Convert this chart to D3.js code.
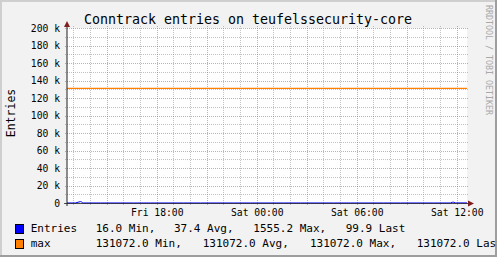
<!DOCTYPE html>
<html>
<head>
<meta charset="utf-8">
<script src="https://cdn.jsdelivr.net/npm/d3@7"></script>
<style>
  body { margin: 0; padding: 0; background: #fff; }
  svg { display: block; }
  text { font-family: "DejaVu Sans Mono", monospace; fill: #000; }
</style>
</head>
<body>
<div id="chart"></div>
<script>

  //////////// *** DATA *** ////////////

  var title = "Conntrack entries on teufelssecurity-core";
  var yLabel = "Entries";
  var watermark = "RRDTOOL / TOBI OETIKER";

  var yTicks = [0, 20000, 40000, 60000, 80000, 100000, 120000, 140000, 160000, 180000, 200000];

  // hours after the graph start (Fri 12:37)
  var entryHours  = [0, 0.5, 0.8, 0.85, 0.95, 1.0, 2, 3, 4, 5, 6, 7, 8, 9, 10, 11, 12, 13, 14, 15, 16, 17, 18, 19, 20, 21, 22, 23, 23.15, 23.2, 23.3, 23.35, 24];
  var entryValues = [30, 25, 1555, 1500, 40, 22, 18, 20, 16, 24, 19, 21, 17, 20, 18, 22, 25, 20, 19, 23, 21, 26, 30, 28, 24, 27, 31, 35, 950, 900, 60, 99.9, 99.9];

  var maxHours  = [0, 24];
  var maxValues = [131072, 131072];

  var statNames   = ["Min,", "Avg,", "Max,", "Last"];
  var entryStats  = [16.0, 37.4, 1555.2, 99.9];
  var maxStats    = [131072.0, 131072.0, 131072.0, 131072.0];

  //////////// *** VARIABLES *** ////////////

  var width = 497, height = 257;
  var x0 = 67, x1 = 467, y0 = 203, y1 = 28;

  var start = new Date(2012, 5, 8, 12, 37);
  var end = d3.timeHour.offset(start, 24);

  var x = d3.scaleTime().domain([start, end]).range([x0, x1]);
  var y = d3.scaleLinear().domain([0, 200000]).range([y0, y1]);

  var hourDate = function(h) { return new Date(start.getTime() + h * 3600000); };

  var svg = d3.select("#chart").append("svg")
    .attr("width", width)
    .attr("height", height);

  // frame
  svg.append("rect").attr("width", width).attr("height", height).attr("fill", "#f2f2f2");
  svg.append("path").attr("d", "M0,0H497V2H2V257H0Z").attr("fill", "#cfcfcf");
  svg.append("path").attr("d", "M497,0V257H0V255H495V0Z").attr("fill", "#9e9e9e");

  // canvas
  svg.append("rect")
    .attr("x", x0).attr("y", y1)
    .attr("width", x1 - x0).attr("height", y0 - y1)
    .attr("fill", "#fff");

  //////////// *** GRID *** ////////////

  var gridColor = "rgba(143,143,143,0.55)",
      mgridColor = "rgba(222,79,79,0.55)";

  var minorY = d3.range(0, 200001, 10000).filter(function(v) { return v % 20000 != 0; });

  svg.selectAll(".ygrid")
    .data(minorY)
    .enter().append("line")
    .attr("x1", x0 - 2).attr("x2", x1 + 2)
    .attr("y1", function(d) { return Math.round(y(d)) + 0.5; })
    .attr("y2", function(d) { return Math.round(y(d)) + 0.5; })
    .attr("stroke", gridColor)
    .attr("stroke-dasharray", "1,1");

  var hours = x.ticks(d3.timeHour.every(1)).filter(function(d) { return d.getHours() % 3 != 0; });
  var majorHours = x.ticks(d3.timeHour.every(3));

  svg.selectAll(".xgrid")
    .data(hours)
    .enter().append("line")
    .attr("x1", function(d) { return Math.round(x(d)) + 0.5; })
    .attr("x2", function(d) { return Math.round(x(d)) + 0.5; })
    .attr("y1", y1 - 2).attr("y2", y0 + 2)
    .attr("stroke", gridColor)
    .attr("stroke-dasharray", "1,1");

  svg.selectAll(".ymgrid")
    .data(yTicks)
    .enter().append("line")
    .attr("x1", x0 - 2).attr("x2", x1 + 2)
    .attr("y1", function(d) { return Math.round(y(d)) + 0.5; })
    .attr("y2", function(d) { return Math.round(y(d)) + 0.5; })
    .attr("stroke", mgridColor)
    .attr("stroke-dasharray", "1,1");

  svg.selectAll(".xmgrid")
    .data(majorHours)
    .enter().append("line")
    .attr("x1", function(d) { return Math.round(x(d)) + 0.5; })
    .attr("x2", function(d) { return Math.round(x(d)) + 0.5; })
    .attr("y1", y1 - 2).attr("y2", y0 + 3)
    .attr("stroke", mgridColor)
    .attr("stroke-dasharray", "1,1");

  //////////// *** LABELS *** ////////////

  svg.selectAll(".ylab")
    .data(yTicks)
    .enter().append("text")
    .attr("x", 60)
    .attr("y", function(d) { return y(d) + 3.5; })
    .attr("text-anchor", "end")
    .style("font-size", "9.7px")
    .text(function(d) { return d == 0 ? "0" : (d / 1000) + " k"; });

  var labelHours = x.ticks(d3.timeHour.every(6));
  var tf = d3.timeFormat("%a %H:%M");

  svg.selectAll(".xlab")
    .data(labelHours)
    .enter().append("text")
    .attr("x", function(d) { return x(d) + 0.5; })
    .attr("y", 216)
    .attr("text-anchor", "middle")
    .style("font-size", "9.7px")
    .text(function(d) { return tf(d); });

  svg.append("text")
    .attr("x", 248).attr("y", 24)
    .attr("text-anchor", "middle")
    .style("font-size", "13.3px")
    .text(title);

  svg.append("text")
    .attr("transform", "translate(15,113) rotate(-90)")
    .attr("text-anchor", "middle")
    .style("font-size", "11.5px")
    .text(yLabel);

  svg.append("text")
    .attr("transform", "translate(486,5) rotate(90)")
    .style("font-size", "8.3px")
    .style("fill", "#a8a8a8")
    .text(watermark);

  //////////// *** DATA LINES *** ////////////

  var line = d3.line()
    .x(function(d) { return x(hourDate(d[0])); })
    .y(function(d) { return y(d[1]); });

  svg.append("path")
    .datum(d3.zip(maxHours, maxValues))
    .attr("d", line)
    .attr("fill", "none")
    .attr("stroke", "#ff8000")
    .attr("stroke-width", 1.2);

  svg.append("path")
    .datum(d3.zip(entryHours, entryValues))
    .attr("d", line)
    .attr("fill", "none")
    .attr("stroke", "#0000ff")
    .attr("stroke-width", 1);

  //////////// *** AXES *** ////////////

  svg.append("line")
    .attr("x1", x0 - 3).attr("x2", x1 + 2)
    .attr("y1", y0 + 0.5).attr("y2", y0 + 0.5)
    .attr("stroke", "#1f1f1f")
    .attr("stroke-opacity", 0.75);

  svg.append("line")
    .attr("x1", x0).attr("x2", x0)
    .attr("y1", y0 + 3).attr("y2", y1 - 2)
    .attr("stroke", "#1f1f1f");

  svg.append("path")
    .attr("d", "M64,27L70,27L67,21Z")
    .attr("fill", "#801f1f");

  svg.append("path")
    .attr("d", "M468,200.5L468,206.5L474,203.5Z")
    .attr("fill", "#801f1f");

  //////////// *** LEGEND *** ////////////

  var fmt = d3.format(".1f");
  var rows = [
    {name: "Entries", color: "#0000ff", stats: entryStats, pos: [95.7, 174, 253.3, 345.7], base: 232},
    {name: "max", color: "#ff8000", stats: maxStats, pos: [95.7, 202.7, 310, 416.7], base: 247}
  ];

  rows.forEach(function(r) {
    svg.append("rect")
      .attr("x", 15.5).attr("y", r.base - 7.5)
      .attr("width", 8).attr("height", 9)
      .attr("fill", r.color)
      .attr("stroke", "#000");

    svg.append("text")
      .attr("x", 30.7).attr("y", r.base)
      .style("font-size", "11px")
      .text(r.name);

    r.stats.forEach(function(v, i) {
      svg.append("text")
        .attr("x", r.pos[i]).attr("y", r.base)
        .style("font-size", "11px")
        .text(fmt(v) + " " + statNames[i]);
    });
  });

</script>
</body>
</html>
